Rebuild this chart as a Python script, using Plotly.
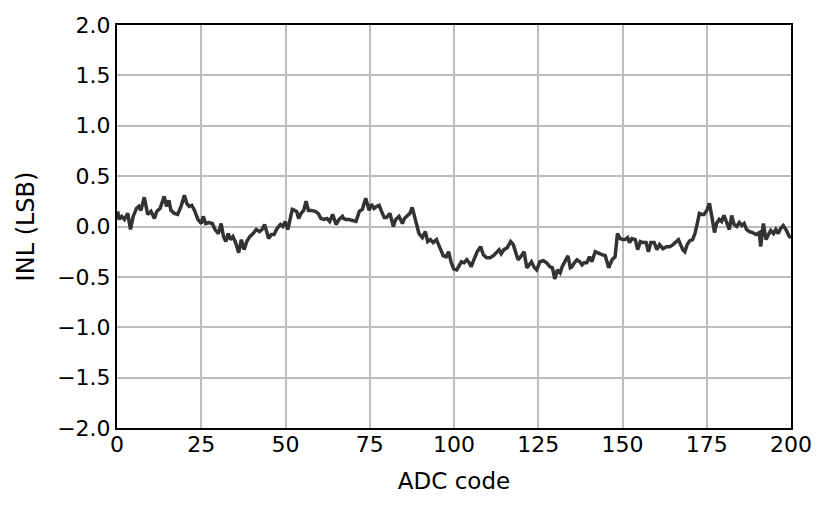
import plotly.graph_objects as go

# INL readings taken off the reference chart
adc_code = [
    0.2, 0.6, 1.4, 2.2, 3.2, 4.0, 4.8, 5.8, 6.5, 7.1, 8.1, 9.1, 10.1, 11.1, 11.8, 12.8,
    14.0, 14.7, 15.4, 16.0, 17.0, 18.0, 19.0, 20.0, 20.7, 21.4, 22.2, 23.0, 24.0, 25.0,
    25.6, 26.3, 27.3, 28.3, 29.1, 30.1, 30.9, 31.6, 32.3, 33.0,
    33.7, 34.4, 35.1, 36.1, 36.9, 37.7, 38.5, 39.4, 40.4, 41.3, 42.3, 43.0, 43.8, 44.3,
    45.0, 45.8, 46.6, 47.5, 48.5, 49.2, 49.9, 50.7, 51.3, 52.0, 52.7, 53.3, 53.9, 54.6,
    55.4, 56.1, 56.8, 57.6, 58.8, 59.7, 60.5, 61.5, 62.3, 63.1, 64.0, 65.0, 65.9, 66.9,
    67.2, 67.9, 68.9, 69.9, 70.9, 71.9, 72.8, 73.8, 74.8, 75.5, 76.3, 77.1, 77.8, 78.5,
    79.3, 80.0, 81.0, 82.0, 82.7, 83.7, 84.7, 85.3, 86.1, 86.9, 87.6, 88.6, 89.6, 90.6,
    91.5, 92.2, 93.0, 93.8, 94.8, 95.8, 96.8, 97.7, 98.4, 99.1, 99.9,
    100.8, 101.5, 102.2, 103.0, 103.8, 104.5, 105.1, 105.9, 106.9, 107.9, 108.7, 109.7,
    110.7, 111.7, 112.7, 113.4, 114.0, 114.8, 115.8, 116.8, 117.6, 118.3, 119.0, 119.8,
    120.8, 121.6, 122.3, 123.0, 123.7, 124.5, 125.5, 126.5, 127.5, 128.5, 129.2, 129.9,
    130.7, 131.5, 132.1, 133.1, 133.8,
    134.5, 135.0, 135.7, 136.5, 137.3, 138.0, 138.6, 139.4, 140.2, 140.9, 141.9, 142.9,
    143.9, 144.9, 145.9, 146.9, 147.8, 148.5, 149.3, 150.1, 150.8, 151.5, 152.1, 152.8,
    153.8, 154.5, 155.3, 156.1, 157.0, 157.7, 158.4, 159.4, 160.2, 161.0, 162.0, 163.0,
    164.0, 165.0, 165.9, 166.6,
    167.9, 168.5, 169.2, 170.0, 170.8, 171.5, 172.2, 172.8, 173.5, 174.2, 175.0, 175.8,
    176.5, 177.3, 177.9, 178.7, 179.4, 180.1, 180.9, 181.7, 182.4, 183.1, 183.9, 184.7,
    185.4, 186.1, 186.8, 187.6, 188.6, 189.6, 190.6, 191.0, 191.8, 192.6, 193.3, 194.0,
    194.8, 195.5, 196.2, 196.9, 197.7, 198.5, 199.5, 200.0,
]
inl_lsb = [
    0.15, 0.07, 0.10, 0.07, 0.13, -0.03, 0.10, 0.18, 0.20, 0.16, 0.29, 0.12, 0.15, 0.08, 0.15, 0.18,
    0.30, 0.20, 0.26, 0.16, 0.13, 0.12, 0.20, 0.31, 0.23, 0.20, 0.21, 0.16, 0.07, 0.03,
    0.10, 0.03, 0.04, 0.03, -0.03, -0.07, 0.03, -0.10, -0.15, -0.07,
    -0.13, -0.10, -0.15, -0.26, -0.13, -0.23, -0.15, -0.10, -0.07, -0.03, -0.05, -0.03, 0.02, -0.05,
    -0.12, -0.08, -0.08, -0.02, 0.02, 0.00, 0.05, -0.03, 0.08, 0.17, 0.16, 0.15, 0.08, 0.13,
    0.16, 0.25, 0.16, 0.16, 0.15, 0.13, 0.08, 0.07, 0.08, 0.05, 0.12, 0.02, 0.07, 0.10,
    0.08, 0.07, 0.07, 0.06, 0.05, 0.15, 0.17, 0.28, 0.16, 0.22, 0.18, 0.20, 0.21, 0.15,
    0.09, 0.09, 0.13, 0.00, 0.07, 0.10, 0.03, 0.08, 0.11, 0.13, 0.19, 0.07, -0.07, -0.11,
    -0.05, -0.15, -0.13, -0.16, -0.13, -0.21, -0.29, -0.30, -0.25, -0.35, -0.42,
    -0.43, -0.38, -0.35, -0.36, -0.33, -0.36, -0.40, -0.33, -0.25, -0.20, -0.28, -0.31,
    -0.31, -0.29, -0.26, -0.23, -0.27, -0.23, -0.21, -0.15, -0.18, -0.25, -0.33, -0.30,
    -0.25, -0.41, -0.38, -0.35, -0.40, -0.43, -0.35, -0.34, -0.36, -0.40, -0.41, -0.52,
    -0.43, -0.46, -0.40, -0.33, -0.29,
    -0.41, -0.40, -0.36, -0.33, -0.35, -0.38, -0.36, -0.36, -0.30, -0.35, -0.25, -0.27,
    -0.28, -0.29, -0.41, -0.33, -0.30, -0.07, -0.12, -0.13, -0.13, -0.11, -0.16, -0.12,
    -0.13, -0.23, -0.15, -0.16, -0.16, -0.25, -0.16, -0.16, -0.23, -0.18, -0.22, -0.20,
    -0.20, -0.18, -0.15, -0.13,
    -0.23, -0.25, -0.18, -0.14, -0.13, -0.07, 0.03, 0.13, 0.12, 0.12, 0.16, 0.23,
    0.10, -0.06, 0.03, 0.07, 0.05, 0.11, 0.04, -0.03, 0.11, 0.02, 0.00, 0.04,
    0.01, 0.03, -0.03, -0.05, -0.06, -0.08, -0.06, -0.20, 0.03, -0.13, -0.08, -0.04,
    -0.07, -0.03, -0.07, -0.02, 0.01, -0.03, -0.10, -0.11,
]

x_ticks = [0, 25, 50, 75, 100, 125, 150, 175, 200]
y_ticks = [-2.0, -1.5, -1.0, -0.5, 0.0, 0.5, 1.0, 1.5, 2.0]

fig = go.Figure()

fig.add_trace(go.Scatter(x=adc_code, y=inl_lsb, mode='lines',
                         line=dict(color='#333333', width=3.5),
                         showlegend=False))

# page body adds an 8px offset, margins are set with that in mind
fig.update_layout(
    width=831, height=510,
    margin=dict(l=109, r=48, t=17, b=90),
    plot_bgcolor='white',
    paper_bgcolor='white',
    font=dict(family='DejaVu Sans', size=22, color='black'),
)

fig.update_xaxes(range=[0, 200], tickvals=x_ticks, automargin=False,
                 title=dict(text='ADC code', standoff=16,
                            font=dict(size=23)),
                 showline=True, linewidth=2, linecolor='black', mirror=True,
                 gridcolor='#bdbdbd', gridwidth=2, zeroline=False,
                 ticks='', tickfont=dict(size=22), ticklabelstandoff=-4)

fig.update_yaxes(range=[-2, 2], tickvals=y_ticks, tickformat='.1f',
                 automargin=False,
                 title=dict(text='INL (LSB)', standoff=16,
                            font=dict(size=24)),
                 showline=True, linewidth=2, linecolor='black', mirror=True,
                 gridcolor='#bdbdbd', gridwidth=2, zeroline=False,
                 ticks='', tickfont=dict(size=22))

fig.write_html("out.html")
